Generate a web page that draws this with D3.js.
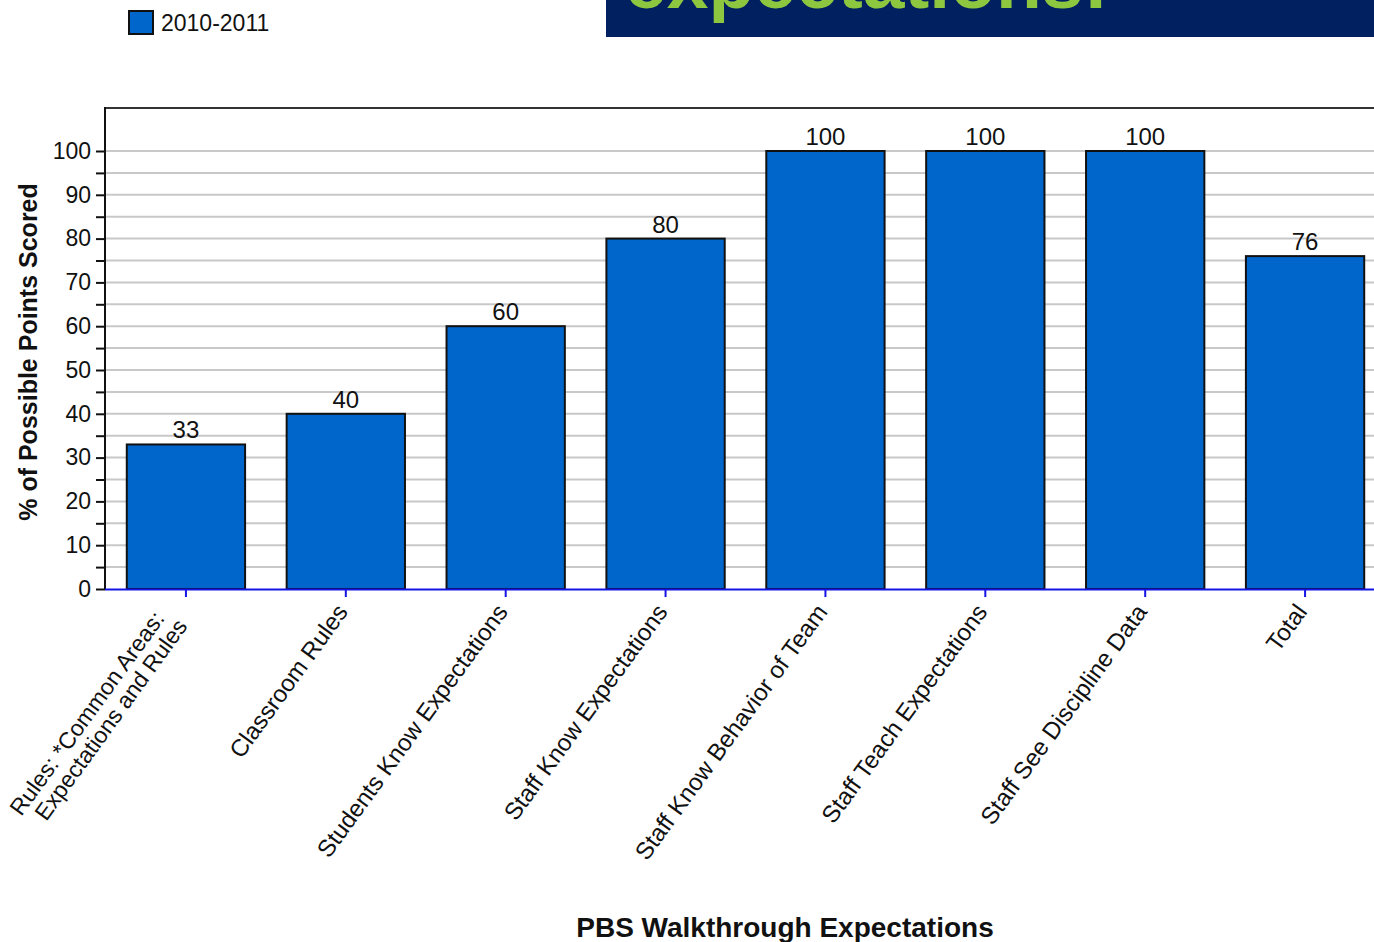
<!DOCTYPE html>
<html>
<head>
<meta charset="utf-8">
<script src="https://cdn.jsdelivr.net/npm/d3@7"></script>
<style>
  html, body { margin: 0; padding: 0; background: #fff; }
  svg { display: block; }
  text { font-family: "Liberation Sans", Arial, sans-serif; }
</style>
</head>
<body>
<svg id="chart" width="1374" height="942"></svg>
<script>
// ---- data ----
const categories = [
  ["Rules: *Common Areas:", "Expectations and Rules"],
  ["Classroom Rules"],
  ["Students Know Expectations"],
  ["Staff Know Expectations"],
  ["Staff Know Behavior of Team"],
  ["Staff Teach Expectations"],
  ["Staff See Discipline Data"],
  ["Total"]
];
const values = [33, 40, 60, 80, 100, 100, 100, 76];
const seriesName = "2010-2011";
const yTickValues = [0, 10, 20, 30, 40, 50, 60, 70, 80, 90, 100];
const yMinorTicks = [5, 15, 25, 35, 45, 55, 65, 75, 85, 95];
const yTitle = "% of Possible Points Scored";
const xTitle = "PBS Walkthrough Expectations";
const bannerText = "expectations!";

// ---- layout ----
const svg = d3.select("#chart");
const W = 1374;
const plotLeft = 105, plotTop = 108, plotBottom = 589;
const keys = categories.map((c, i) => "c" + i);

const x = d3.scaleBand().domain(keys).range([106, 1385]).paddingInner(0.26).paddingOuter(0.13);
const y = d3.scaleLinear().domain([0, 110]).range([plotBottom, plotBottom - 110 * 4.38]);

// banner (cut by the top edge, as in the source image)
const clip = svg.append("defs").append("clipPath").attr("id", "bannerClip");
clip.append("rect").attr("x", 606).attr("y", 0).attr("width", W - 606).attr("height", 37);
svg.append("rect").attr("x", 606).attr("y", 0).attr("width", W - 606).attr("height", 37).attr("fill", "#002060");
svg.append("g").attr("clip-path", "url(#bannerClip)")
  .append("text").attr("x", 625).attr("y", 8)
  .attr("font-size", 75).attr("font-weight", "bold").attr("fill", "#8dc63f")
  .text(bannerText);

// legend
svg.append("rect").attr("x", 129).attr("y", 11).attr("width", 24).attr("height", 23)
  .attr("fill", "#0066cc").attr("stroke", "#111").attr("stroke-width", 2);
svg.append("text").attr("x", 161).attr("y", 31).attr("font-size", 23).attr("fill", "#111").text(seriesName);

// gridlines
const allTicks = yTickValues.concat(yMinorTicks).filter(v => v > 0).sort(d3.ascending);
svg.append("g").selectAll("line").data(allTicks).join("line")
  .attr("x1", plotLeft).attr("x2", W)
  .attr("y1", d => y(d)).attr("y2", d => y(d))
  .attr("stroke", "#c8c8c8").attr("stroke-width", 2);

// top frame
svg.append("line").attr("x1", plotLeft).attr("x2", W).attr("y1", plotTop).attr("y2", plotTop)
  .attr("stroke", "#333").attr("stroke-width", 2);

// bars
svg.append("g").selectAll("rect").data(values).join("rect")
  .attr("x", (d, i) => x(keys[i]))
  .attr("y", d => y(d))
  .attr("width", x.bandwidth())
  .attr("height", d => y(0) - y(d))
  .attr("fill", "#0066cc").attr("stroke", "#111").attr("stroke-width", 2);

// value labels
svg.append("g").selectAll("text").data(values).join("text")
  .attr("x", (d, i) => x(keys[i]) + x.bandwidth() / 2)
  .attr("y", d => y(d) - 6)
  .attr("text-anchor", "middle").attr("font-size", 24).attr("fill", "#111")
  .text(d => d);

// y axis
const yAxis = d3.axisLeft(y).tickValues(d3.range(0, 101, 5)).tickSize(9).tickPadding(5)
  .tickFormat(d => (d % 10 === 0 ? d : ""));
const gy = svg.append("g").attr("transform", `translate(${plotLeft},0)`).call(yAxis);
gy.select(".domain").remove();
gy.selectAll(".tick line").attr("stroke", "#111").attr("stroke-width", 2);
gy.selectAll(".tick text").attr("font-size", 23).attr("fill", "#111")
  .attr("font-family", "Liberation Sans, Arial, sans-serif");
svg.append("line").attr("x1", plotLeft).attr("x2", plotLeft).attr("y1", plotTop - 1).attr("y2", plotBottom)
  .attr("stroke", "#111").attr("stroke-width", 2);

// x axis
const xAxis = d3.axisBottom(x).tickSize(8).tickFormat("");
const gx = svg.append("g").attr("transform", `translate(0,${plotBottom})`).call(xAxis);
gx.select(".domain").attr("d", `M${plotLeft},0.5H${W}`).attr("stroke", "#1414e6").attr("stroke-width", 2);
gx.selectAll(".tick line").attr("stroke", "#1414e6").attr("stroke-width", 2);

// x labels (rotated)
const ang = -54;
const fs = 24;
const labelG = svg.append("g");
categories.forEach((lines, i) => {
  const cx = x(keys[i]) + x.bandwidth() / 2;
  const g = labelG.append("g").attr("transform", `translate(${cx + 3},${plotBottom + 23}) rotate(${ang})`);
  if (lines.length === 1) {
    g.append("text").attr("text-anchor", "end").attr("font-size", fs).attr("fill", "#111").text(lines[0]);
  } else {
    g.append("text").attr("text-anchor", "end").attr("font-size", fs - 1).attr("fill", "#111")
      .attr("x", -19).attr("y", -15).text(lines[0]);
    g.append("text").attr("text-anchor", "end").attr("font-size", fs - 1).attr("fill", "#111")
      .attr("x", -12).attr("y", 8).text(lines[1]);
  }
});

// axis titles
svg.append("text").attr("transform", `translate(37,352) rotate(-90)`)
  .attr("text-anchor", "middle").attr("font-size", 25).attr("font-weight", "bold").attr("fill", "#111")
  .text(yTitle);
svg.append("text").attr("x", 785).attr("y", 937)
  .attr("text-anchor", "middle").attr("font-size", 28).attr("font-weight", "bold").attr("fill", "#111")
  .text(xTitle);
</script>
</body>
</html>
